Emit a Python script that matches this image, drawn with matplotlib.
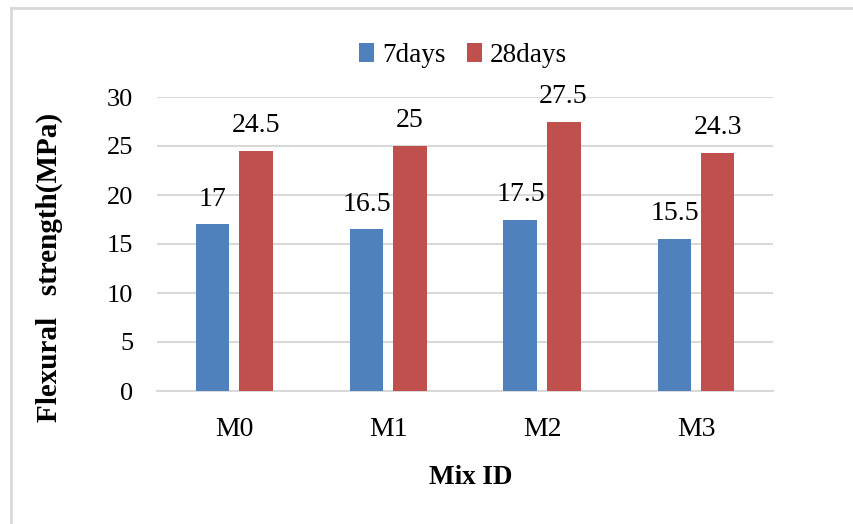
import numpy as np
import matplotlib
matplotlib.use('Agg')
import matplotlib.pyplot as plt
from matplotlib.lines import Line2D

# Data
mixes = ['M0', 'M1', 'M2', 'M3']
days7 = [17, 16.5, 17.5, 15.5]
days28 = [24.5, 25, 27.5, 24.3]
day7_labels = ['17', '16.5', '17.5', '15.5']
day28_labels = ['24.5', '25', '27.5', '24.3']

plt.rcParams['font.family'] = ['Liberation Serif', 'DejaVu Serif']

blue = '#4F81BD'
red = '#C0504D'
grid_col = '#D9D9D9'

fig = plt.figure(figsize=(8.54, 5.24), dpi=100)
ax = fig.add_axes([157/854, 133/524, 616/854, 294/524])

x = np.arange(len(mixes))
w = 0.22
b1 = ax.bar(x - 0.14, days7, w, color=blue, label='7days', zorder=3)
b2 = ax.bar(x + 0.14, days28, w, color=red, label='28days', zorder=3)

# value labels above bars
for rects, labs in [(b1, day7_labels), (b2, day28_labels)]:
    for r, lab in zip(rects, labs):
        ax.annotate(lab, (r.get_x() + r.get_width() / 2, r.get_height()),
                    xytext=(0, 13.5), textcoords='offset points',
                    ha='center', va='baseline', fontsize=20)

ax.set_xlim(-0.5, 3.5)
ax.set_ylim(0, 30)
ax.set_yticks(np.arange(0, 31, 5))
ax.set_xticks(x)
ax.set_xticklabels(mixes)
ax.yaxis.grid(True, color=grid_col, linewidth=1.5, zorder=0)
ax.set_axisbelow(True)
for s in ['top', 'right', 'left']:
    ax.spines[s].set_visible(False)
ax.spines['bottom'].set_color(grid_col)
ax.spines['bottom'].set_linewidth(1.5)
ax.tick_params(axis='both', length=0)
ax.tick_params(axis='y', labelsize=19, pad=17)
ax.tick_params(axis='x', labelsize=20, pad=19)

ax.set_xlabel('Mix ID', fontsize=19.5, fontweight='bold')
ax.xaxis.set_label_coords(0.51, (391 - 477) / 294, transform=ax.transAxes)
ax.xaxis.label.set_va('center')
ax.set_ylabel('Flexural   strength(MPa)', fontsize=21, fontweight='bold')
ax.yaxis.set_label_coords(-0.174, 0.42)
ax.yaxis.label.set_va('center')

fig.legend(loc='center', bbox_to_anchor=(463/854, 1 - 55/524), ncol=2,
           frameon=False, fontsize=19.5, handlelength=0.55, handleheight=0.7,
           handletextpad=0.3, columnspacing=0.8)

# outer chart border (left and top edges visible)
fig.add_artist(Line2D([11/854, 11/854], [0, 1 - 8/524], transform=fig.transFigure,
                      color=grid_col, linewidth=2))
fig.add_artist(Line2D([11/854, 1], [1 - 8/524, 1 - 8/524], transform=fig.transFigure,
                      color=grid_col, linewidth=2))

fig.savefig('out.png', dpi=100)
